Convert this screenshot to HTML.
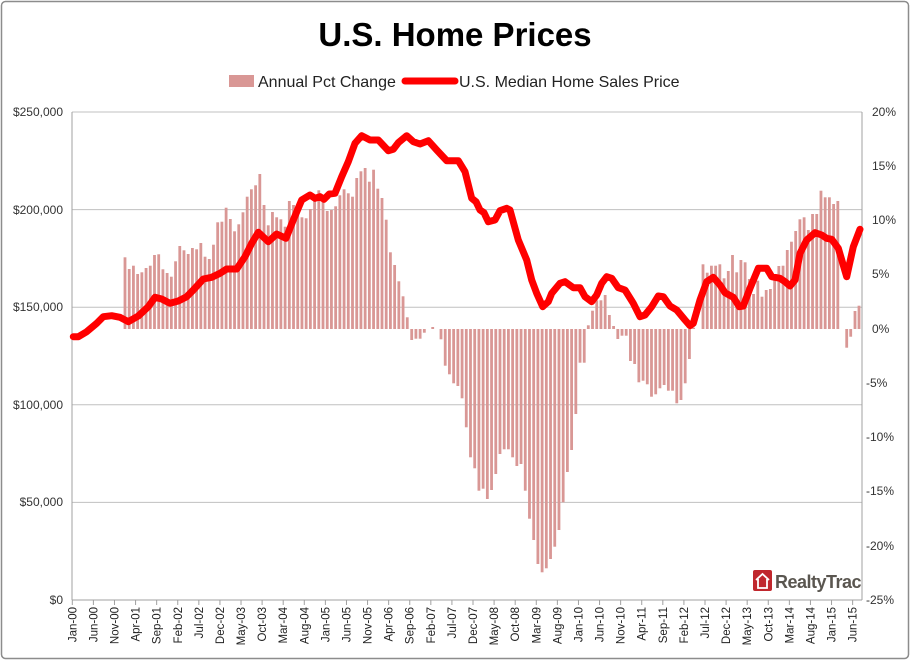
<!DOCTYPE html>
<html><head><meta charset="utf-8"><style>
body{margin:0;background:#fff;}
svg{display:block;font-family:"Liberation Sans",sans-serif;}
</style></head><body>
<svg id="s" width="910" height="660" viewBox="0 0 910 660" xmlns="http://www.w3.org/2000/svg">
<rect x="1.5" y="1.5" width="907" height="657" rx="4" fill="#fff" stroke="#8c8c8c" stroke-width="1.5"/>
<text x="455" y="46" text-anchor="middle" font-size="33" font-weight="bold" fill="#000">U.S. Home Prices</text>
<rect x="229" y="75" width="25" height="12" fill="#d99795"/>
<text x="258" y="87" font-size="16" fill="#222">Annual Pct Change</text>
<line x1="405" y1="81" x2="455" y2="81" stroke="#ff0000" stroke-width="7" stroke-linecap="round"/>
<text x="459" y="87" font-size="16" fill="#222">U.S. Median Home Sales Price</text>
<g stroke="#c0c0c0" stroke-width="1">
<line x1="72" y1="112" x2="862" y2="112"/>
<line x1="72" y1="209.6" x2="862" y2="209.6"/>
<line x1="72" y1="307.2" x2="862" y2="307.2"/>
<line x1="72" y1="404.8" x2="862" y2="404.8"/>
<line x1="72" y1="502.4" x2="862" y2="502.4"/>
</g>
<g id="bars" fill="#d99795"></g>
<g stroke="#a0a0a0" stroke-width="1">
<line x1="72" y1="112" x2="72" y2="600"/>
<line x1="862" y1="112" x2="862" y2="600"/>
<line x1="72" y1="600" x2="862" y2="600"/>
</g>
<g id="ticks" stroke="#a0a0a0" stroke-width="1"></g>
<polyline fill="none" stroke="#ff0000" stroke-width="7" stroke-linejoin="round" stroke-linecap="round" points="73.3,336.7 78.3,336.7 86.7,331.7 96.7,323.3 103.3,316.7 111.7,315.7 120,317.3 128.3,321.7 138.3,316 148.3,306.7 155,297.3 161.7,299 170,303.3 178.3,301 186.7,296.7 193.3,290 203.3,279 211.7,277.3 220,273.3 226.7,269 236.7,269 245,256.7 251.7,243.3 258.3,232.3 268.3,241.7 276.7,234 286,238.3 293.3,220 301.7,200 310,195 315,198.3 320,196.7 324,199.3 329.3,194 335,193.3 341.7,176.7 348.3,161.7 355,143.3 361.7,135.7 370,140 378.3,140 388.3,150.7 393.3,149.3 398.3,142.7 406.7,135.7 413.3,141.7 420,144 428.3,140.7 436.7,150 446.7,160.7 458.3,160.7 465,171.7 471.7,198.3 476,201.7 480,210 484,212.7 488.3,221.7 495,220 500,210.7 506.7,208.3 510,210 518.3,240 526.7,260 531.7,280 536.7,293.3 542.7,306.7 548.3,301.7 551.7,293.3 560,283.3 565,281.7 573.3,287.7 580,287.7 585,296.7 591.7,301.7 596.7,295 601.7,283.3 606.7,276.7 611.7,278.3 618.3,287.7 625,290 633.3,303.3 640,316.7 645,315 651.7,306.7 658.3,296 663.3,296.7 670,306 676.7,310 685,320 690,325.7 693.3,323.3 700,300 706.7,281.7 713.3,277.3 720,285 725,292.7 733.3,297.3 739.3,306.7 743.3,306 750,288.3 758.3,268.3 766.7,268.3 771.7,276.7 780,278.3 785,281.7 790,286 795,280 800,253.3 806.7,240 815,232.7 821.7,235 826.7,238.3 831.7,239.3 838.3,248.3 846.7,276.7 853.3,246.7 860,229.3"/>
<g font-size="12" fill="#333" text-anchor="end">
<text x="63" y="116">$250,000</text>
<text x="63" y="214">$200,000</text>
<text x="63" y="311">$150,000</text>
<text x="63" y="409">$100,000</text>
<text x="63" y="506">$50,000</text>
<text x="63" y="604">$0</text>
</g>
<g font-size="12" fill="#333">
<text x="872" y="116">20%</text>
<text x="872" y="170">15%</text>
<text x="872" y="224">10%</text>
<text x="872" y="278">5%</text>
<text x="872" y="333">0%</text>
<text x="866" y="387">-5%</text>
<text x="866" y="441">-10%</text>
<text x="866" y="495">-15%</text>
<text x="866" y="550">-20%</text>
<text x="866" y="604">-25%</text>
</g>
<g id="xl" font-size="11.5" fill="#222" text-anchor="end">
<text>Jan-00</text><text>Jun-00</text><text>Nov-00</text><text>Apr-01</text><text>Sep-01</text><text>Feb-02</text><text>Jul-02</text><text>Dec-02</text><text>May-03</text><text>Oct-03</text><text>Mar-04</text><text>Aug-04</text><text>Jan-05</text><text>Jun-05</text><text>Nov-05</text><text>Apr-06</text><text>Sep-06</text><text>Feb-07</text><text>Jul-07</text><text>Dec-07</text><text>May-08</text><text>Oct-08</text><text>Mar-09</text><text>Aug-09</text><text>Jan-10</text><text>Jun-10</text><text>Nov-10</text><text>Apr-11</text><text>Sep-11</text><text>Feb-12</text><text>Jul-12</text><text>Dec-12</text><text>May-13</text><text>Oct-13</text><text>Mar-14</text><text>Aug-14</text><text>Jan-15</text><text>Jun-15</text>
</g>
<g>
<rect x="753" y="570" width="19" height="21" rx="2" fill="#c0272d"/>
<path d="M756 580 L762.5 574 L769 580 M758 579 V588 H767 V579" fill="none" stroke="#fff" stroke-width="1.8"/>
<text x="775" y="588" font-size="18" font-weight="bold" fill="#5a5650" letter-spacing="-0.5">RealtyTrac</text>
</g>
</svg>
<script>
var NS="http://www.w3.org/2000/svg",Z=329,B=document.getElementById('bars');
function bar(x,h){var r=document.createElementNS(NS,'rect');r.setAttribute('x',x-1.4);r.setAttribute('width',2.8);
if(h>=0){r.setAttribute('y',Z-h);r.setAttribute('height',h);}else{r.setAttribute('y',Z);r.setAttribute('height',-h);}B.appendChild(r);}
function seg(x0,arr){var st=4.213;for(var i=0;i<arr.length;i++)bar(x0+i*st,arr[i]);}
seg(125,[71.7,60,63.3,55,56.7,61,63.3,74,74.7,59.7,56,52.3,67.7,83,78.7,75,81,79.7,86,72.3,70,84.3,106.7,107.3,121.3,110,97.7,104.7,116.7,132.3,139.7,143.7,155,124,103.7,117,111.7,109.7,102.3,128,124,119,111.7,110.7,120,129,138.7,128.3,118,119,122.7,133.7,139.7,135.7,132.3,151,157.7,161,147.3,159.3,140.3,131,109.3,76.7,64,47.7,32.7,11.7]);
seg(411.7,[-11,-9.7,-9.7,-3.7]);
bar(432.7,2);
seg(441,[-10.3,-36.7,-45.3,-54.3,-57,-69.3,-98.3,-128.3,-139.3,-161.7,-159.7,-170,-161,-145,-125,-120.3,-120.3,-128.3,-137,-135,-161.7,-189.7,-211,-235,-243.3,-239.3,-230,-217.7,-201,-173.3,-143,-121,-85,-33.7,-33.7]);
seg(588.3,[3.7,18.3,28.7,28.7,34,14,3,-10,-6.7,-6.7,-32,-35,-53.3,-51.7,-55.3,-67.7,-65.3,-59.3,-56,-61.7,-61.7,-74.3,-71,-54.3,-30,1.3]);
seg(703,[64.7,56.3,63.3,63.3,64.7,50.7,58,74,56.7,69,66.7,50,35,48.3,32.3,39,40,52.3,63,63.3,79,87.3,98,109.7,111.7,99,115,115,138.3,131.7,131.7,125,128]);
bar(846.7,-18.7);bar(850.7,-7.7);bar(855,18);bar(859,23.3);
var T=document.getElementById('ticks');
for(var k=0;k<=37;k++){var x=72.3+k*21.09;var l=document.createElementNS(NS,'line');l.setAttribute('x1',x);l.setAttribute('x2',x);l.setAttribute('y1',600);l.setAttribute('y2',605);T.appendChild(l);}
var ts=document.querySelectorAll('#xl text');
for(var k=0;k<ts.length;k++){var x=72.3+k*21.09+4;ts[k].setAttribute('transform','translate('+x+',607) rotate(-90)');}
</script>
</body></html>
